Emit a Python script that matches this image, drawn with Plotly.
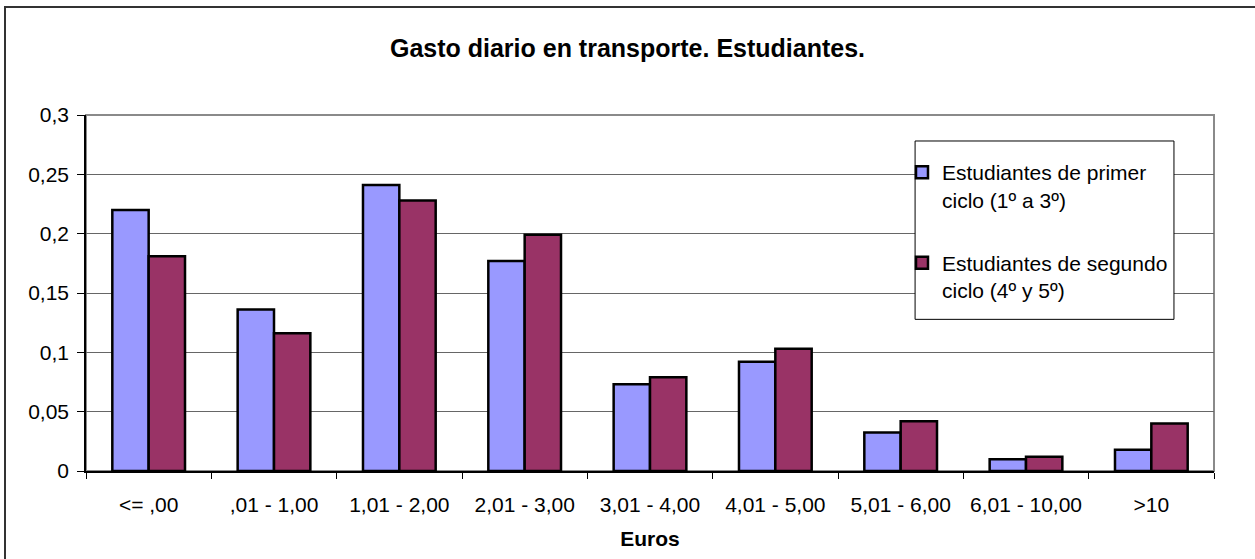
import plotly.graph_objects as go

categories = ["<= ,00", ",01 - 1,00", "1,01 - 2,00", "2,01 - 3,00", "3,01 - 4,00",
              "4,01 - 5,00", "5,01 - 6,00", "6,01 - 10,00", ">10"]
primer_ciclo = [0.220, 0.136, 0.241, 0.177, 0.073, 0.092, 0.0325, 0.010, 0.018]
segundo_ciclo = [0.181, 0.116, 0.228, 0.199, 0.079, 0.103, 0.042, 0.012, 0.040]

font = "Liberation Sans, Arial, sans-serif"

fig = go.Figure()
fig.add_trace(go.Bar(x=categories, y=primer_ciclo,
                     name="Estudiantes de primer<br>ciclo (1º a 3º)",
                     legendgroup="a",
                     marker=dict(color="#9999FF", line=dict(color="black", width=2.5))))
fig.add_trace(go.Bar(x=categories, y=segundo_ciclo,
                     name="Estudiantes de segundo<br>ciclo (4º y 5º)",
                     legendgroup="b",
                     marker=dict(color="#993366", line=dict(color="black", width=2.5))))

fig.update_layout(
    width=1255, height=559,
    margin=dict(l=86, r=41, t=115, b=85),
    paper_bgcolor="white", plot_bgcolor="white",
    separators=",.",
    font=dict(family=font, size=21, color="black"),
    title=dict(text="<b>Gasto diario en transporte. Estudiantes.</b>",
               font=dict(size=25), x=0.5, xanchor="center",
               y=1 - 48 / 559, yanchor="middle", yref="container"),
    bargap=0.42, bargroupgap=0,
    barmode="group",
    legend=dict(x=0.7234, y=0.896, xanchor="left", yanchor="top",
                bgcolor="rgba(0,0,0,0)", borderwidth=0, valign="top",
                font=dict(size=21), tracegroupgap=33, traceorder="grouped"),
    showlegend=True,
)

fig.update_xaxes(type="category", tickson="boundaries", ticks="outside",
                 ticklen=6, tickcolor="black", showline=True, linecolor="black",
                 linewidth=1.5, showgrid=False, ticklabelstandoff=14,
                 title=dict(text="<b>Euros</b>", font=dict(size=21), standoff=16))
fig.update_yaxes(range=[0, 0.3], dtick=0.05, ticks="outside", ticklen=7,
                 tickcolor="black", showline=True, linecolor="black", linewidth=1.5,
                 showgrid=True, gridcolor="#666666", gridwidth=1,
                 zeroline=False, ticklabelstandoff=4)

# gray plot-area frame (top/right)
fig.add_shape(type="rect", xref="paper", yref="paper", x0=0, x1=1, y0=0, y1=1,
              line=dict(color="#8a8a8a", width=2), layer="below")
# legend box
fig.add_shape(type="rect", xref="paper", yref="paper",
              x0=0.735, x1=0.9645, y0=0.426, y1=0.927,
              fillcolor="white", line=dict(color="black", width=1), layer="above")
# outer chart border (cropped on right and bottom)
fig.add_shape(type="rect", xref="paper", yref="paper",
              xsizemode="pixel", ysizemode="pixel", xanchor=0, yanchor=0,
              x0=-81, x1=1300, y0=-300, y1=464,
              line=dict(color="#333333", width=2))

fig.write_html("out.html", config={"displayModeBar": False},
               post_script="document.body.style.margin='0';")
